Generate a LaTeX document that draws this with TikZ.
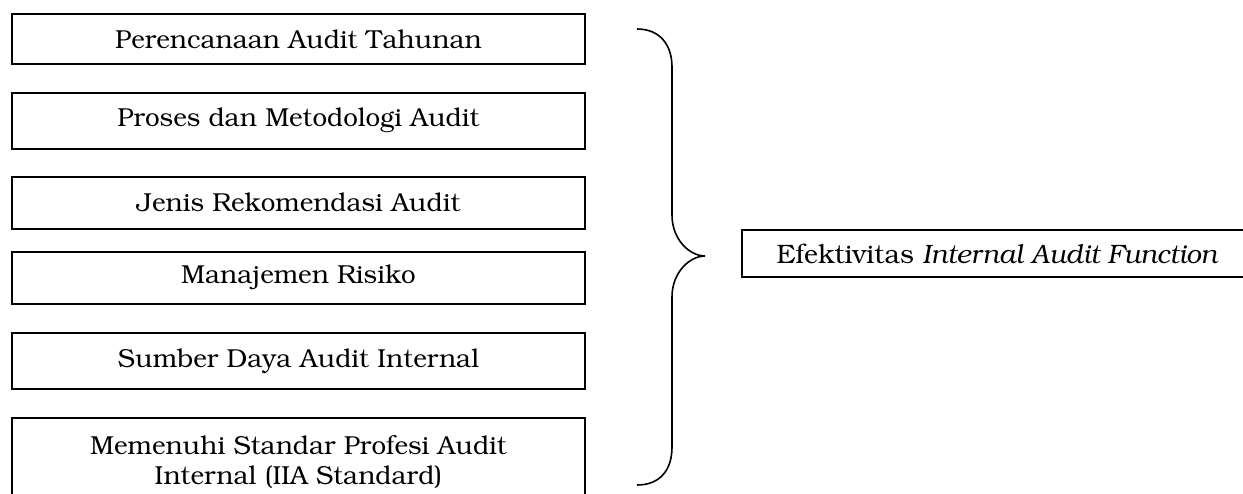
\documentclass[tikz,border=0pt]{standalone}
\usepackage[T1]{fontenc}
\usepackage{bookman}
\begin{document}
\begin{tikzpicture}[x=0.5pt,y=-0.5pt,
    factor/.style={draw,line width=0.8pt,minimum width=286.5pt,inner sep=0pt,
      align=center,font=\fontsize{13}{15}\selectfont}]
      \useasboundingbox (0,0) rectangle (1243,493);
      \node[factor,minimum height=25pt] (1) at (298.5,39) {Perencanaan Audit Tahunan};
      \node[factor,minimum height=28pt] (2) at (298.5,121) {Proses dan Metodologi Audit};
      \node[factor,minimum height=26pt] (3) at (298.5,203) {Jenis Rekomendasi Audit};
      \node[factor,minimum height=26pt] (4) at (298.5,278) {Manajemen Risiko};
      \node[factor,minimum height=28pt] (5) at (298.5,361) {Sumber Daya Audit Internal};
      \node[factor,minimum height=44pt,anchor=north] (6) at (298.5,417)
        {Memenuhi Standar Profesi Audit\\Internal (IIA Standard)};
      \node[factor,minimum width=255.5pt,minimum height=23.5pt,font=\fontsize{13.3}{15}\selectfont]
        (e) at (997.5,253.5) {Efektivitas \textit{Internal Audit Function}};
      % kurung kurawal
      \draw[line width=0.8pt]
        (637,29) .. controls (660,29) and (672,45) .. (672,67)
        -- (672,215) .. controls (672,240) and (690,256) .. (705,256)
        .. controls (690,256) and (672,272) .. (672,297)
        -- (672,447) .. controls (672,470) and (660,485) .. (637,485);
    \end{tikzpicture}
\end{document}
